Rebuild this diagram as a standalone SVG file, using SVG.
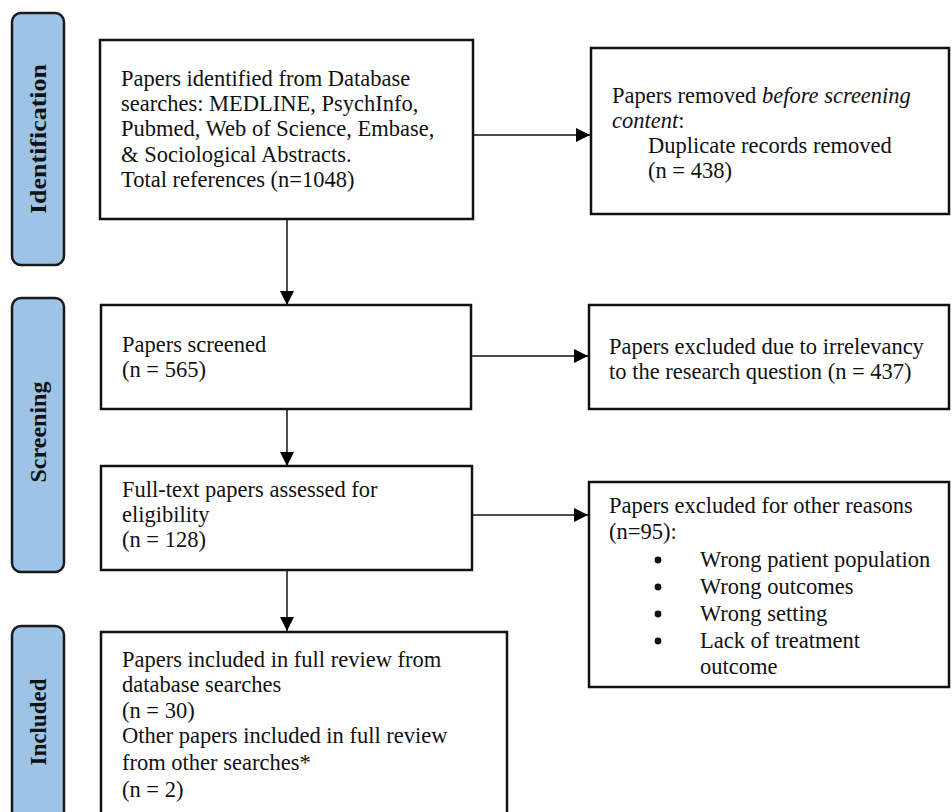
<svg xmlns="http://www.w3.org/2000/svg" width="952" height="812" viewBox="0 0 952 812">
<defs>
<marker id="arr" viewBox="0 0 14 14" refX="14" refY="7" markerWidth="14" markerHeight="14" markerUnits="userSpaceOnUse" orient="auto">
<path d="M0,0 L14,7 L0,14 Z" fill="#000"/>
</marker>
</defs>
<style>
.side{fill:#9dc3e6;stroke:#1a1a1a;stroke-width:2.5}
.slab{font-family:"Liberation Serif","Times New Roman",serif;font-weight:bold;font-size:23px;fill:#111;text-anchor:middle}
.box{fill:#fff;stroke:#111;stroke-width:2.5}
.t{font-family:"Liberation Serif","Times New Roman",serif;font-size:22.5px;fill:#111}
.con{stroke:#111;stroke-width:1.5;fill:none;marker-end:url(#arr)}
.dot{fill:#111}
</style>
<rect width="952" height="812" fill="#fff"/>

<g id="side-identification">
<rect class="side" x="12" y="13" width="52" height="252" rx="9"/>
<text class="slab" transform="translate(46,139) rotate(-90)" textLength="150" lengthAdjust="spacingAndGlyphs">Identification</text>
</g>
<g id="side-screening">
<rect class="side" x="12" y="298" width="52" height="274" rx="9"/>
<text class="slab" transform="translate(46,432) rotate(-90)" textLength="101" lengthAdjust="spacingAndGlyphs">Screening</text>
</g>
<g id="side-included">
<rect class="side" x="12" y="626" width="52" height="200" rx="9"/>
<text class="slab" transform="translate(46,722) rotate(-90)">Included</text>
</g>

<g id="connectors">
<line class="con" x1="473" y1="135" x2="590" y2="135"/>
<line class="con" x1="287" y1="219" x2="287" y2="305"/>
<line class="con" x1="471" y1="356" x2="588" y2="356"/>
<line class="con" x1="287" y1="409" x2="287" y2="466"/>
<line class="con" x1="472" y1="515" x2="588" y2="515"/>
<line class="con" x1="287" y1="570" x2="287" y2="631"/>
</g>

<g id="identified">
<rect class="box" x="100" y="40" width="373" height="179"/>
<text class="t" x="121" y="86">Papers identified from Database</text>
<text class="t" x="121" y="111">searches: MEDLINE, PsychInfo,</text>
<text class="t" x="121" y="136">Pubmed, Web of Science, Embase,</text>
<text class="t" x="121" y="162">&amp; Sociological Abstracts.</text>
<text class="t" x="121" y="187">Total references (n=1048)</text>
</g>

<g id="removed">
<rect class="box" x="591" y="48" width="358" height="166"/>
<text class="t" x="612" y="103">Papers removed <tspan font-style="italic">before screening</tspan></text>
<text class="t" x="612" y="128"><tspan font-style="italic">content</tspan>:</text>
<text class="t" x="648" y="153">Duplicate records removed</text>
<text class="t" x="648" y="178">(n = 438)</text>
</g>

<g id="screened">
<rect class="box" x="101" y="305" width="370" height="104"/>
<text class="t" x="122" y="352">Papers screened</text>
<text class="t" x="122" y="377">(n = 565)</text>
</g>

<g id="excluded-irrelevant">
<rect class="box" x="589" y="305" width="360" height="104"/>
<text class="t" x="609" y="354">Papers excluded due to irrelevancy</text>
<text class="t" x="609" y="379">to the research question (n = 437)</text>
</g>

<g id="fulltext">
<rect class="box" x="101" y="466" width="371" height="104"/>
<text class="t" x="122" y="497">Full-text papers assessed for</text>
<text class="t" x="122" y="522">eligibility</text>
<text class="t" x="122" y="547">(n = 128)</text>
</g>

<g id="excluded-other">
<rect class="box" x="589" y="482" width="360" height="205"/>
<text class="t" x="609" y="513">Papers excluded for other reasons</text>
<text class="t" x="609" y="539">(n=95):</text>
<circle class="dot" cx="658" cy="560" r="3.4"/>
<text class="t" x="700" y="567">Wrong patient population</text>
<circle class="dot" cx="658" cy="587" r="3.4"/>
<text class="t" x="700" y="594">Wrong outcomes</text>
<circle class="dot" cx="658" cy="614" r="3.4"/>
<text class="t" x="700" y="621">Wrong setting</text>
<circle class="dot" cx="658" cy="641" r="3.4"/>
<text class="t" x="700" y="648">Lack of treatment</text>
<text class="t" x="700" y="674">outcome</text>
</g>

<g id="included">
<rect class="box" x="101" y="632" width="406" height="200"/>
<text class="t" x="122" y="667">Papers included in full review from</text>
<text class="t" x="122" y="692">database searches</text>
<text class="t" x="122" y="718">(n = 30)</text>
<text class="t" x="122" y="743">Other papers included in full review</text>
<text class="t" x="122" y="770">from other searches*</text>
<text class="t" x="122" y="797">(n = 2)</text>
</g>
</svg>
